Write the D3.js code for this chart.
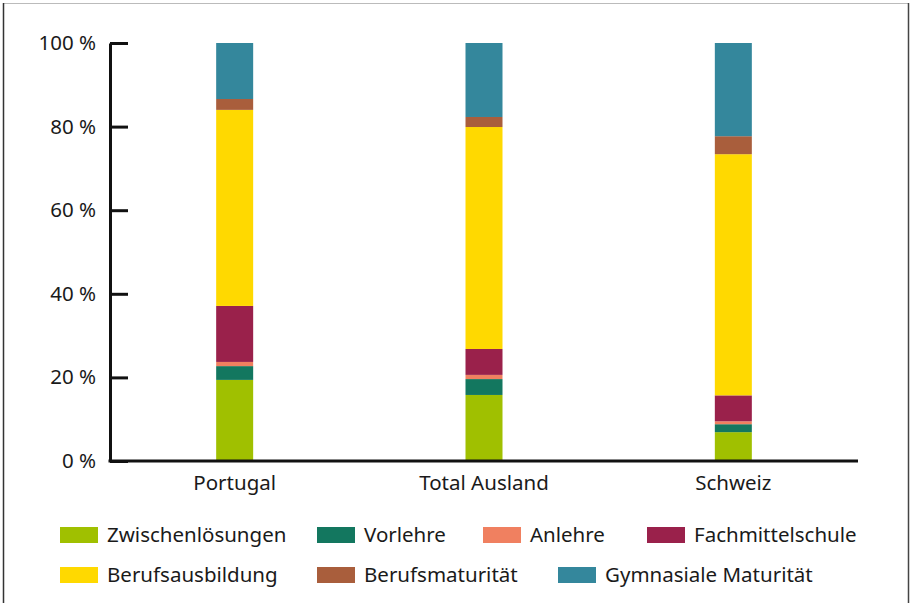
<!DOCTYPE html>
<html><head><meta charset="utf-8">
<script src="https://cdn.jsdelivr.net/npm/d3@7"></script>
<style>
html,body{margin:0;padding:0;background:#fff;}
svg{display:block;font-family:"Noto Sans",sans-serif;}
</style></head>
<body>
<svg id="chart" width="911" height="603"></svg>
<script>
const categories = ["Portugal", "Total Ausland", "Schweiz"];
const seriesNames = ["Zwischenlösungen", "Vorlehre", "Anlehre", "Fachmittelschule", "Berufsausbildung", "Berufsmaturität", "Gymnasiale Maturität"];
const zwischenloesungen = [19.4, 15.8, 6.9];
const vorlehre = [3.3, 3.8, 1.9];
const anlehre = [1.0, 1.0, 0.7];
const fachmittelschule = [13.4, 6.2, 6.2];
const berufsausbildung = [46.9, 53.1, 57.7];
const berufsmaturitaet = [2.6, 2.4, 4.3];
const gymnasialeMaturitaet = [13.4, 17.7, 22.3];
const yTicks = [0, 20, 40, 60, 80, 100];
const colors = ["#a0c000", "#13775f", "#f08060", "#9a214b", "#ffd900", "#a95e3c", "#34879c"];

const seriesValues = [zwischenloesungen, vorlehre, anlehre, fachmittelschule, berufsausbildung, berufsmaturitaet, gymnasialeMaturitaet];
const rows = categories.map((c, i) => {
  const r = {cat: c};
  seriesNames.forEach((s, j) => r[s] = seriesValues[j][i]);
  return r;
});

const FONT = "Noto Sans";
const svg = d3.select("#chart");
// frame
svg.append("line").attr("x1", 3).attr("x2", 909).attr("y1", 3.5).attr("y2", 3.5).attr("stroke", "#bbb").attr("stroke-width", 1);
svg.append("line").attr("x1", 3.5).attr("x2", 3.5).attr("y1", 3).attr("y2", 603).attr("stroke", "#333").attr("stroke-width", 1.5);
svg.append("line").attr("x1", 908.5).attr("x2", 908.5).attr("y1", 3).attr("y2", 603).attr("stroke", "#444").attr("stroke-width", 1.5);

const x = d3.scaleBand().domain(categories).range([110, 858]).padding(0);
const y = d3.scaleLinear().domain([0, 100]).range([461, 43]);
const barW = 37;

const stack = d3.stack().keys(seriesNames)(rows);
svg.append("g").selectAll("g").data(stack).join("g")
  .attr("fill", (d, i) => colors[i])
  .selectAll("rect").data(d => d).join("rect")
  .attr("x", d => x(d.data.cat) + x.bandwidth() / 2 - barW / 2)
  .attr("width", barW)
  .attr("y", d => y(d[1]))
  .attr("height", d => y(d[0]) - y(d[1]));

// y axis
const yAxis = svg.append("g").attr("transform", "translate(110,0)")
  .call(d3.axisLeft(y).tickValues(yTicks).tickFormat(d => d + " %").tickSizeInner(-18).tickSizeOuter(0).tickPadding(14));
yAxis.select(".domain").attr("stroke", "#111").attr("stroke-width", 3);
yAxis.selectAll(".tick line").attr("stroke", "#111").attr("stroke-width", 3);
yAxis.selectAll(".tick text").attr("font-size", 20.5).attr("fill", "#1a1a1a").attr("font-family", FONT);

// x axis
const xAxis = svg.append("g").attr("transform", "translate(0,461)")
  .call(d3.axisBottom(x).tickSize(0).tickPadding(14));
xAxis.select(".domain").attr("stroke", "#111").attr("stroke-width", 3).attr("d", "M108.5,0H858");
xAxis.selectAll(".tick text").attr("font-size", 20.5).attr("fill", "#1a1a1a").attr("font-family", FONT);

// legend
const legendPos = [[60, 535], [317, 535], [483, 535], [647, 535], [60, 575], [317, 575], [558, 575]];
const leg = svg.append("g").selectAll("g").data(seriesNames).join("g")
  .attr("transform", (d, i) => `translate(${legendPos[i][0]},${legendPos[i][1]})`);
leg.append("rect").attr("x", 0).attr("y", -8).attr("width", 38).attr("height", 16).attr("fill", (d, i) => colors[i]);
leg.append("text").attr("x", 47).attr("y", 0).attr("dy", "0.35em").attr("font-size", 20.5).attr("fill", "#1a1a1a").attr("font-family", FONT).text(d => d);
</script>
</body></html>
